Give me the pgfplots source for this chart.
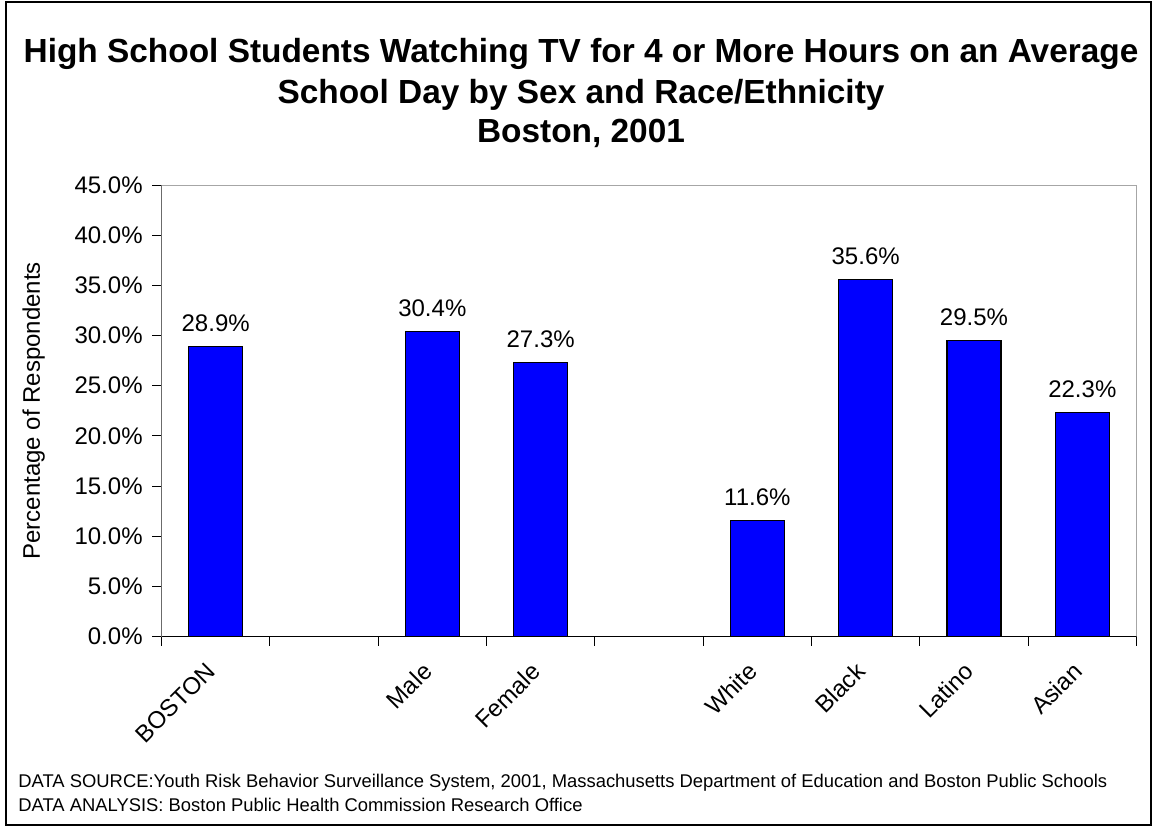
\documentclass[border=0pt]{standalone}
\usepackage{fontspec}
\setmainfont{Liberation Sans}
\usepackage{pgfplots}
\pgfplotsset{compat=1.18}

\begin{document}
\begin{tikzpicture}[x=1pt,y=1pt]
\useasboundingbox (0,0) rectangle (577,413.5);
\draw[line width=0.8pt] (3,1) rectangle (575.5,412.5);

% title
\node[anchor=base, font=\fontsize{16.7}{18}\selectfont\bfseries] at (290.5,382)
  {High School Students Watching TV for 4 or More Hours on an Average};
\node[anchor=base, font=\fontsize{16.7}{18}\selectfont\bfseries] at (290.5,361.75)
  {School Day by Sex and Race/Ethnicity};
\node[anchor=base, font=\fontsize{16.7}{18}\selectfont\bfseries] at (290.5,342.5)
  {Boston, 2001};

\begin{axis}[
    at={(80.75pt,95.25pt)}, anchor=south west,
    scale only axis,
    width=487.5pt, height=225.75pt,
    ymin=0, ymax=45, ytick={0,5,...,45},
    xmin=-0.5, xmax=8.5,
    xtick={0,...,8},
    xticklabels={BOSTON,,Male,Female,,White,Black,Latino,Asian},
    minor xtick={-0.5,0.5,...,8.5},
    major x tick style={draw=none},
    tick pos=left, tick align=outside,
    major tick length=4.5pt, minor tick length=4.5pt,
    tick style={black, line width=0.5pt},
    axis line style={gray!70, line width=0.5pt},
    /pgf/number format/assume math mode=true,
    yticklabel={\pgfmathprintnumber[fixed,fixed zerofill,precision=1]{\tick}\%},
    yticklabel style={font=\fontsize{12}{14}\selectfont, anchor=east, inner sep=0pt, xshift=-4.75pt},
    xticklabel style={font=\fontsize{12}{14}\selectfont, xshift=-5.5pt, yshift=-7.5pt,
        rotate=45, anchor=north east, inner sep=0pt},
    every axis y label/.style={at={(axis description cs:-0.131,0.5)}, rotate=90, anchor=center,
        font=\fontsize{12}{14}\selectfont},
    ylabel={Percentage of Respondents},
    ybar, bar width=27pt,
    nodes near coords={\pgfmathprintnumber[fixed,fixed zerofill,precision=1]{\pgfplotspointmeta}\%},
    nodes near coords style={font=\fontsize{12}{14}\selectfont, anchor=base, inner sep=0pt, yshift=7.5pt},
]
\addplot[fill=blue, draw=black, line width=0.6pt] coordinates {
    (0,28.9) (2,30.4) (3,27.3) (5,11.6) (6,35.6) (7,29.5) (8,22.3)
};
\draw[black, line width=0.6pt] (rel axis cs:0,1) -- (rel axis cs:0,0) -- (rel axis cs:1,0);
\end{axis}

% source notes
\node[anchor=base west, font=\fontsize{9.2}{11}\selectfont, inner sep=0pt] at (9,20)
  {DATA SOURCE:Youth Risk Behavior Surveillance System, 2001, Massachusetts Department of Education and Boston Public Schools};
\node[anchor=base west, font=\fontsize{9.2}{11}\selectfont, inner sep=0pt] at (9,8)
  {DATA ANALYSIS: Boston Public Health Commission Research Office};
\end{tikzpicture}
\end{document}
